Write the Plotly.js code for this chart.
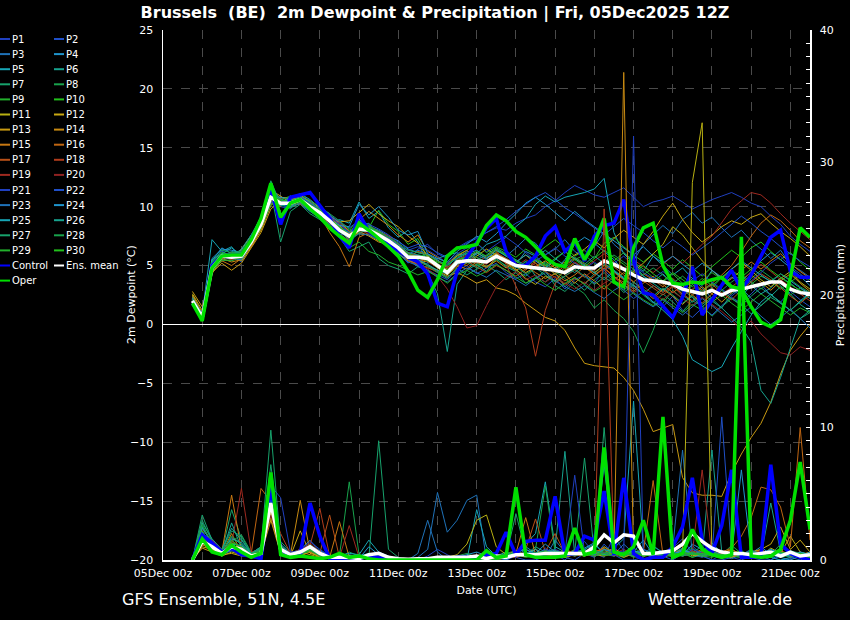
<!DOCTYPE html>
<html><head><meta charset="utf-8">
<script src="https://cdn.plot.ly/plotly-3.0.1.min.js"></script>
<style>html,body{margin:0;padding:0;background:#000;}#chart{width:850px;height:620px;}</style>
</head><body><div id="chart"></div>
<script>
// ---- time axis: 6-hourly from 05Dec2025 18z, 64 steps ----
const firstTimeUTC = Date.UTC(2025, 11, 5, 18);
const stepHours = 6;
const nSteps = 64;
const tickDates = ['2025-12-05','2025-12-06','2025-12-07','2025-12-08','2025-12-09','2025-12-10','2025-12-11','2025-12-12','2025-12-13','2025-12-14','2025-12-15','2025-12-16','2025-12-17','2025-12-18','2025-12-19','2025-12-20','2025-12-21'];
const tickText = ['05Dec 00z','','07Dec 00z','','09Dec 00z','','11Dec 00z','','13Dec 00z','','15Dec 00z','','17Dec 00z','','19Dec 00z','','21Dec 00z'];

// ---- 2m dewpoint (°C) ----
const dewMean = [2.0,0.6,4.8,5.8,5.7,5.8,7.0,8.5, 10.8,10.3,10.3,10.6,10.0,9.5,8.8,8.0, 7.5,8.1,8.0,7.6,7.1,6.5,5.7,5.7, 5.6,5.0,4.4,5.3,5.4,5.4,5.3,5.8, 5.4,5.0,4.9,4.8,4.7,4.6,4.4,4.9, 4.8,4.8,5.4,5.1,4.7,4.2,3.8,3.7, 3.6,3.4,3.0,2.8,2.6,2.9,2.5,2.9, 3.0,3.2,3.4,3.6,3.6,3.0,2.7,2.6];
const dewControl = [1.8,0.6,5.0,5.8,5.9,5.9,7.2,8.9, 11.5,8.5,10.8,11.0,11.2,10.1,9.0,7.5, 6.5,9.4,7.9,7.3,6.8,6.3,5.7,5.3, 4.3,1.8,1.5,4.5,5.7,7.0,8.2,9.0, 6.2,5.0,5.0,5.8,7.5,8.3,6.2,7.0, 5.4,7.5,8.4,8.6,10.6,5.5,2.7,2.5, 1.6,0.6,2.3,4.9,0.8,2.1,3.3,4.6, 2.9,4.2,5.8,7.4,8.0,4.5,4.0,4.0];
const dewOper = [1.8,0.3,4.8,5.8,5.9,5.9,7.2,9.0, 12.0,9.1,10.3,10.6,9.8,9.1,8.2,7.5, 6.9,8.6,8.0,7.3,6.6,5.8,4.5,2.9, 2.3,3.8,5.8,6.5,6.6,6.8,8.4,9.3, 8.8,7.9,7.4,6.6,5.7,5.1,4.9,7.3, 5.5,6.9,9.0,3.6,3.2,6.5,8.2,8.6, 5.0,3.5,3.4,3.6,3.5,3.8,4.0,3.2, 3.0,1.5,0.2,-0.2,0.4,4.0,8.2,7.4];
const dewP1 = [1.9,0.5,5.2,6.3,5.4,6.1,7.4,9.2, 11.2,10.0,9.8,10.9,10.4,9.6,9.1,8.3, 7.0,8.6,7.8,7.2,6.8,6.1,5.2,6.4, 6.8,6.0,5.6,6.5,7.0,7.4,7.8,8.2, 8.0,8.6,9.0,9.3,10.0,10.5,11.2,11.8, 11.4,11.0,10.8,11.2,11.6,10.8,10.0,10.4, 10.6,10.9,10.4,9.8,10.2,10.6,10.9,11.2, 10.8,10.3,10.0,9.2,8.5,7.5,6.8,6.2];
const dewP2 = [2.2,0.8,4.5,5.5,5.9,5.3,6.8,8.1, 10.2,10.6,10.1,10.2,9.6,9.0,8.2,7.6, 7.8,7.9,8.4,7.9,6.9,6.0,5.5,4.9, 4.6,4.2,3.8,4.6,5.0,4.3,4.8,5.2, 4.4,3.9,4.3,3.6,3.2,3.9,3.0,3.8, 4.2,3.5,4.6,3.8,2.9,2.2,2.8,1.9, 1.5,2.4,1.2,0.6,1.4,0.8,1.6,2.3, 1.8,2.6,3.4,2.5,1.9,2.8,2.1,1.5];
const dewP3 = [2.0,0.7,5.0,6.0,5.6,5.9,7.1,8.7, 11.0,10.4,10.6,10.8,10.2,9.4,9.0,8.5, 7.9,8.3,8.1,7.5,7.4,6.8,6.0,6.3, 6.0,5.4,5.1,5.6,6.2,5.9,5.5,6.4, 5.8,6.5,7.3,6.9,5.9,6.4,7.2,6.2, 5.7,6.6,7.9,6.8,6.1,5.4,6.8,7.6, 8.4,7.7,8.9,9.5,8.6,9.1,8.2,7.4, 8.0,7.1,6.4,5.6,6.3,5.1,4.6,4.0];
const dewP4 = [1.8,0.4,5.4,6.5,6.0,6.3,7.6,8.8, 10.9,10.8,10.5,11.1,10.6,9.9,9.4,8.1, 7.6,8.9,8.3,8.0,7.5,7.1,6.4,6.1, 5.9,5.5,4.8,5.9,6.0,6.3,5.7,6.0, 5.6,5.1,6.2,5.8,5.0,4.6,5.5,6.8, 7.4,6.9,6.2,5.5,4.6,5.2,4.1,3.6, 4.3,3.4,2.8,3.9,3.1,2.2,3.4,4.0, 3.6,4.5,5.4,6.1,5.5,4.8,4.1,3.3];
const dewP5 = [2.4,0.9,7.2,6.2,6.6,5.5,7.0,8.3, 10.6,10.1,10.9,10.4,10.0,9.8,8.6,8.9, 8.6,10.4,9.0,9.6,8.2,7.4,8.0,7.0, 5.2,5.6,5.9,6.1,5.3,6.0,6.8,7.1, 7.5,8.3,9.0,10.2,10.9,10.4,10.8,11.0, 11.2,11.5,12.4,7.8,6.0,5.2,4.5,5.8, 5.0,4.2,4.8,3.9,3.3,4.6,3.8,3.0, 2.4,3.3,2.6,3.1,4.0,3.5,2.8,2.2];
const dewP6 = [2.1,0.6,4.9,5.7,6.2,6.0,7.3,8.6, 11.6,10.2,9.9,10.3,9.8,9.3,8.8,8.4, 7.7,8.2,8.6,7.3,6.8,6.2,5.6,5.0, 4.4,2.6,-2.3,3.4,4.6,5.1,4.5,5.6, 4.9,4.5,5.4,4.1,3.6,4.4,3.2,4.0, 3.4,4.3,5.1,4.6,3.9,3.1,2.6,3.3, 2.8,3.6,2.5,1.9,2.7,2.0,1.4,2.6, 3.1,2.2,1.6,2.4,3.2,2.6,1.7,1.1];
const dewP7 = [1.7,0.3,4.6,5.9,5.8,5.6,6.9,8.4, 11.3,7.0,9.6,10.2,9.4,8.9,8.3,7.4, 6.2,6.6,7.0,5.6,5.0,4.7,4.3,4.9, 4.9,4.4,3.9,4.8,4.2,4.7,5.0,4.5, 3.8,4.4,3.5,3.9,4.6,3.3,2.8,3.6, 2.9,3.8,4.4,3.6,2.7,3.4,2.5,1.8, 2.6,1.9,1.1,2.0,1.6,0.7,1.5,2.2, 1.7,0.9,1.6,2.3,1.8,1.2,0.5,1.0];
const dewP8 = [2.3,0.8,4.4,5.4,5.5,6.2,7.2,8.9, 10.4,10.6,10.9,10.5,10.0,9.7,9.3,8.6, 8.0,8.4,7.9,7.6,7.2,6.6,6.1,5.6, 5.5,4.9,4.6,5.1,5.8,5.2,4.9,5.5, 5.0,4.6,4.1,4.8,5.3,4.5,3.9,3.2, 2.6,1.4,2.1,1.2,0.5,-0.6,-2.4,-0.5, 1.8,2.9,2.2,3.4,2.6,3.1,4.0,3.3, 2.7,3.9,4.6,4.0,3.3,2.5,3.1,2.4];
const dewP9 = [1.9,0.5,4.7,5.6,5.9,5.7,7.1,8.2, 10.7,10.3,10.2,10.7,10.1,9.6,8.9,8.2, 7.4,8.0,8.2,7.8,7.3,6.7,5.8,5.9, 5.8,5.2,4.6,5.5,5.7,5.0,5.3,6.2, 6.0,5.4,4.8,5.6,5.1,4.2,4.8,5.5, 5.9,5.2,4.6,5.4,6.1,5.3,4.7,4.0, 3.6,4.3,3.5,2.9,3.7,4.4,3.8,3.2, 2.6,3.4,4.1,3.7,3.0,3.6,4.2,3.8];
const dewP10 = [2.0,0.7,5.1,6.1,5.7,5.8,7.0,8.8, 11.8,10.5,10.4,10.9,10.3,9.2,8.7,7.9, 7.3,9.2,8.2,9.7,8.5,7.9,6.8,7.3, 5.7,5.3,5.0,5.9,6.3,6.9,6.1,6.6, 6.2,5.7,6.4,5.9,6.6,7.2,6.5,5.8, 6.3,5.6,6.9,7.4,6.6,5.9,5.3,6.0, 5.4,4.7,5.5,4.8,4.1,4.9,5.6,6.3, 5.7,6.5,7.0,6.2,5.5,6.1,5.3,4.6];
const dewP11 = [2.6,1.2,4.8,5.5,6.0,5.4,6.6,8.0, 10.1,10.8,10.7,10.4,9.9,9.2,8.5,8.8, 7.9,7.7,7.6,7.1,6.6,6.0,5.4,5.2, 5.4,4.8,4.2,4.9,5.2,5.8,6.4,5.9, 5.3,4.7,3.9,3.4,4.1,3.7,4.6,5.2, 4.8,4.4,5.0,4.5,3.8,4.5,5.2,6.0, 6.8,8.3,7.6,6.5,5.4,4.6,3.9,4.7, 5.3,4.6,3.8,3.2,3.9,4.5,3.6,3.0];
const dewP12 = [2.5,1.0,5.0,5.8,5.6,6.4,7.5,9.0, 11.4,10.9,10.3,10.8,10.5,9.9,9.2,8.7, 8.8,9.5,10.2,9.4,8.8,8.3,7.5,6.9, 5.8,5.1,4.7,5.3,5.6,6.1,5.6,6.0, 5.5,5.0,4.4,4.9,5.4,4.8,5.3,5.9, 6.4,7.1,6.5,7.3,8.0,7.4,6.8,7.9, 9.2,10.3,8.9,7.8,7.0,7.6,8.3,8.8, 8.5,9.1,9.4,8.6,7.9,7.3,6.6,5.8];
const dewP13 = [2.8,1.5,4.4,5.2,4.6,5.2,6.5,7.8, 9.8,10.5,10.0,10.3,10.2,9.5,8.7,8.0, 7.2,7.9,7.5,7.0,6.8,6.3,5.9,5.5, 5.0,4.6,4.1,4.4,4.0,3.5,3.8,3.1, 2.9,2.5,1.8,1.2,0.6,0.3,-0.5,-2.0, -3.3,-3.5,-3.6,-3.7,-4.5,-5.6,-7.2,-9.1, -8.8,-8.5,-13.0,-14.3,-14.5,-14.5,-14.6,-12.6, -11.0,-9.6,-8.4,-6.6,-4.2,-2.2,-1.0,0.0];
const dewP14 = [2.3,0.9,4.3,5.6,5.3,5.5,6.7,8.3, 10.5,10.0,10.8,11.0,10.4,9.6,9.0,8.4, 7.5,8.9,9.6,9.0,8.4,7.6,7.0,7.6, 6.2,5.7,5.2,5.8,6.3,5.5,4.9,5.4, 4.8,5.3,5.9,5.2,4.5,5.1,4.2,3.5, 4.3,3.7,3.0,3.8,4.4,3.6,2.9,2.2, 3.0,2.4,1.7,2.5,3.2,2.6,1.9,2.7, 3.5,4.2,3.6,2.9,3.7,4.3,3.5,2.8];
const dewP15 = [2.1,0.8,4.6,5.4,5.0,5.6,6.6,8.1, 10.3,10.4,10.6,10.8,10.1,9.3,7.8,6.6, 4.9,7.4,7.8,7.5,7.0,6.4,5.8,5.3, 5.6,5.0,4.5,5.0,4.7,5.3,4.8,5.7, 5.2,4.6,5.0,4.4,3.9,4.3,3.7,4.2, 4.9,4.2,4.8,4.1,3.4,2.8,3.5,4.1, 3.4,2.7,3.3,2.5,1.8,2.6,3.3,3.9, 4.6,5.3,4.7,5.4,6.0,5.2,4.5,3.9];
const dewP16 = [2.4,1.0,4.9,5.9,5.5,6.2,7.3,8.9, 11.5,10.7,10.2,10.6,9.7,9.1,8.4,7.7, 7.1,7.8,8.0,7.4,6.9,6.6,5.7,6.2, 5.9,5.4,4.9,5.2,5.0,5.7,5.2,6.1, 5.6,5.2,4.6,5.4,4.9,4.3,5.0,5.6, 5.1,4.6,5.5,4.9,4.2,3.6,4.3,3.8, 3.2,3.9,3.1,3.6,2.9,3.5,4.2,5.0, 6.2,7.5,8.6,9.3,8.8,8.0,7.1,6.5];
const dewP17 = [2.2,0.6,4.7,5.7,6.1,5.9,7.0,8.5, 10.9,10.1,10.5,10.2,9.8,9.6,9.1,8.2, 7.7,8.4,8.2,7.7,7.1,6.5,5.4,5.1, 4.8,4.5,4.0,4.7,5.4,4.9,4.4,5.0, 4.6,4.1,4.7,5.2,4.5,4.0,3.4,3.9, 3.5,4.1,4.8,4.0,3.6,3.0,3.7,3.1, 2.5,3.2,2.6,2.0,2.8,3.4,2.7,2.1, 2.9,3.6,4.3,3.8,3.1,2.4,1.8,2.5];
const dewP18 = [2.0,0.5,4.8,5.6,5.8,6.0,7.2,8.6, 11.1,10.2,10.0,10.5,10.3,9.8,9.0,8.6, 7.9,8.3,7.9,7.8,7.3,6.8,6.1,5.7, 5.3,4.9,4.3,5.0,5.6,5.2,5.8,6.3, 5.1,3.2,1.4,-2.7,1.2,3.5,4.1,4.6, 4.0,4.7,5.2,4.4,3.8,4.5,3.9,3.3, 2.7,3.3,2.4,3.0,3.7,3.1,2.5,3.2, 3.8,4.4,5.1,4.5,3.8,3.2,2.6,2.0];
const dewP19 = [1.9,0.6,4.9,5.8,5.5,5.7,7.0,8.7, 11.0,10.5,10.1,10.6,10.2,9.5,8.9,8.3, 7.6,8.2,8.4,7.9,7.5,6.9,6.0,5.8, 5.5,5.1,4.8,5.5,5.9,5.4,5.1,5.8, 5.3,4.9,5.5,5.0,4.6,5.2,4.7,5.3, 4.8,5.4,6.0,5.3,4.7,5.5,4.9,4.4, 5.1,5.8,5.2,6.0,6.8,7.5,8.6,9.8, 10.5,11.2,11.0,10.3,9.4,8.6,7.9,7.2];
const dewP20 = [2.1,0.7,4.6,5.7,5.9,5.6,6.9,8.4, 10.6,10.3,10.4,10.5,9.9,9.4,8.6,8.1, 7.3,8.0,7.7,7.2,6.7,6.2,5.6,5.2, 4.7,4.1,3.0,1.5,-0.3,-0.1,1.6,3.2, 4.0,4.5,3.8,4.2,3.6,4.1,3.5,3.0, 3.6,2.9,3.5,4.0,3.3,2.7,3.2,2.6, 2.1,2.8,2.2,1.6,2.3,1.7,1.1,0.4, -0.5,0.3,-0.8,-1.6,-2.4,-2.6,-1.9,-2.2];
const dewP21 = [1.8,0.4,5.3,6.2,5.8,6.0,7.3,8.9, 11.3,10.6,10.3,10.8,10.2,9.7,9.2,8.5, 7.8,8.6,8.0,7.7,7.3,6.7,6.3,6.6, 6.3,5.8,5.2,6.0,6.5,6.9,6.2,6.8, 7.4,6.8,6.1,5.4,5.9,6.5,5.8,5.2, 4.7,5.3,4.6,5.2,5.8,5.0,4.4,3.9, 4.5,3.8,3.1,3.7,4.3,3.6,3.0,2.4, 3.1,3.7,4.4,5.2,5.8,4.9,4.3,3.6];
const dewP22 = [2.0,0.6,5.0,6.0,5.9,5.8,7.1,8.6, 10.8,10.4,10.7,10.9,10.3,9.8,9.3,8.7, 8.2,8.8,8.5,8.1,7.6,7.0,6.5,6.8, 6.6,6.1,5.7,6.4,6.9,7.3,7.8,8.3, 8.9,9.6,10.2,10.8,11.2,10.6,9.9,9.4, 8.8,8.2,7.6,8.3,9.0,8.4,7.8,7.1, 6.5,7.2,6.6,5.9,6.5,7.1,7.8,8.5, 9.2,8.6,7.9,7.3,6.6,6.0,5.4,4.9];
const dewP23 = [1.9,0.5,4.7,5.7,5.6,5.5,6.8,8.3, 10.4,10.2,10.0,10.3,9.6,9.1,8.5,7.9, 7.2,7.7,7.6,7.2,6.6,6.0,5.3,5.0, 4.6,4.0,3.6,4.3,4.8,4.4,4.0,4.6, 4.2,3.8,3.3,3.9,4.4,3.7,3.2,2.8, 3.3,2.7,2.2,2.9,3.4,2.6,2.0,1.5, 2.1,1.4,0.8,1.5,2.2,1.6,0.9,0.2, 0.8,1.5,0.7,0.0,0.6,1.3,0.5,-0.3];
const dewP24 = [2.2,0.8,5.6,6.4,6.3,6.1,7.4,8.8, 10.7,10.8,10.6,10.4,10.1,9.5,8.9,8.4, 8.3,10.2,9.3,10.0,9.1,8.0,7.6,7.9, 6.0,5.6,5.3,6.2,6.8,7.5,7.0,7.7, 8.6,9.4,10.3,10.8,10.2,9.5,8.8,9.6, 8.9,8.3,7.7,7.1,6.5,5.9,6.6,5.8, 5.2,5.8,5.1,4.5,5.2,4.6,4.0,4.7, 5.4,4.8,4.2,3.6,4.3,3.7,3.1,2.6];
const dewP25 = [2.0,0.5,5.5,6.0,6.5,5.9,7.0,8.5, 11.2,10.1,10.0,10.6,10.0,9.3,8.8,8.1, 7.5,8.0,8.3,7.6,7.0,6.3,5.9,5.5, 5.1,4.6,4.3,5.1,5.5,6.1,5.6,6.3, 5.8,5.3,5.9,5.4,4.8,5.5,6.2,5.6, 5.0,4.4,3.8,4.5,3.9,3.3,2.6,1.9, 1.2,0.4,-1.0,-3.0,-3.5,-4.0,-3.6,-2.0, -0.6,0.8,1.9,2.6,1.8,1.2,2.0,2.7];
const dewP26 = [2.3,0.9,5.2,5.9,5.7,6.4,7.6,9.1, 11.7,10.6,10.4,10.9,10.4,9.8,9.1,8.2, 7.8,8.4,8.1,7.9,7.4,6.8,6.1,5.9, 5.6,5.0,4.5,5.6,6.0,5.5,5.9,6.5, 6.0,5.5,5.0,5.7,6.3,5.6,5.0,4.4, 5.1,5.8,5.2,4.6,4.0,4.7,4.1,3.5, 2.9,3.6,3.0,2.3,1.5,2.2,1.4,0.6, -0.2,-1.5,-5.6,-6.7,-4.5,-2.0,0.5,1.2];
const dewP27 = [1.8,0.4,4.9,5.7,5.8,5.6,6.9,8.6, 12.2,10.2,9.9,10.4,9.7,9.2,8.8,7.7, 7.0,7.8,8.0,7.4,6.9,6.3,5.8,5.3, 5.0,4.5,4.0,4.7,5.3,4.8,5.4,5.9, 5.4,4.9,4.3,4.8,4.2,3.6,4.1,4.7, 4.1,3.4,4.0,3.5,2.9,3.6,3.0,2.4, 3.1,2.5,1.8,2.4,1.7,2.3,2.9,2.2, 1.6,2.4,3.1,2.5,1.9,1.2,1.9,2.6];
const dewP28 = [2.1,0.7,5.3,6.3,6.1,6.2,7.4,8.9, 11.4,10.6,10.8,11.1,10.5,10.0,9.4,8.8, 8.1,8.7,8.4,7.9,7.4,6.9,6.3,6.1, 5.9,5.4,5.0,5.7,6.1,5.7,5.3,5.9, 5.4,4.8,5.3,4.7,5.2,4.6,5.1,5.7, 5.2,4.7,5.3,5.9,5.3,4.7,4.2,4.8, 4.2,3.5,4.1,3.4,2.8,3.5,2.9,3.6, 4.2,3.6,3.0,3.7,4.3,3.8,3.2,2.7];
const dewP29 = [1.9,0.6,4.5,5.5,5.4,5.7,6.8,8.2, 10.2,10.4,10.2,10.4,9.8,9.0,8.4,7.8, 6.5,7.0,6.2,5.9,5.3,5.0,4.6,4.2, 4.5,4.1,3.5,4.2,4.6,4.1,4.5,5.1, 4.6,4.0,3.5,4.0,3.4,2.9,3.5,4.0, 3.4,2.8,3.3,2.7,2.1,2.7,2.1,1.6, 2.2,1.6,1.0,1.7,1.2,1.9,2.5,1.8, 1.2,1.9,2.6,2.0,1.4,0.8,1.4,1.0];
const dewP30 = [2.0,0.5,5.0,6.1,5.9,6.1,7.2,8.7, 11.0,10.5,10.5,10.7,10.2,9.7,9.0,8.3, 7.6,8.3,8.3,7.8,7.2,6.6,6.0,5.7, 5.4,5.0,4.6,5.4,5.8,6.2,5.8,6.4, 5.9,5.4,4.9,5.5,5.0,5.6,6.2,5.5, 4.9,5.6,6.3,5.7,5.1,4.4,5.0,4.3, 3.7,4.4,3.8,3.2,3.9,3.3,4.0,4.6, 4.0,4.7,5.3,4.6,4.0,3.4,2.9,2.4];

// ---- precipitation (mm / 6h) ----
const prcMean = [0,1.4,1.0,0.5,1.0,0.8,0.3,0.5, 4.3,0.8,0.4,0.6,1.0,0.5,0.2,0.2, 0.2,0.1,0.4,0.5,0.2,0.1,0.05,0.1, 0.1,0.2,0.2,0.2,0.2,0.3,0.1,0.3, 0.2,0.4,0.4,0.4,0.5,0.5,0.5,0.5, 0.5,1.0,1.9,1.3,1.9,1.8,0.5,0.5, 0.6,0.7,1.2,2.0,1.4,0.9,0.6,0.5, 0.5,0.4,0.5,0.6,0.3,0.6,0.3,0.4];
const prcControl = [0,1.9,1.3,0.6,0.9,0.4,0.3,0.1, 5.5,0.8,0.4,0.5,4.3,1.8,0.1,0.1, 0.2,0.1,0.3,0.2,0,0,0,0, 0,0,0.1,0.2,0.2,0.1,0.4,0.5, 2.1,0.4,1.4,1.5,1.5,4.8,0.4,0.5, 1.8,1.5,5.2,0.4,6.2,0.5,0,0.2, 0.2,1.0,2.5,6.2,1.5,0.5,2.6,6.8, 0.2,0.2,0.3,7.2,1.2,0.5,0.2,0];
const prcOper = [0,1.6,0.6,0.4,1.1,0.6,0.2,0.5, 6.6,0.4,0.2,0.3,0.2,0.1,0.2,0.5, 0.2,0.3,0.1,0,0,0,0,0, 0,0,0,0,0,0,0.7,0.2, 0.3,5.5,0.4,0.2,0.2,0.2,0.3,2.4, 0.4,0.6,8.5,0.6,0.4,1.0,3.0,0.4, 10.8,0.2,0.5,2.3,0.8,0.4,0.2,0.4, 24.4,0.3,0.2,0.3,0.8,3.0,7.4,2.3];
const prcP1 = [0,1.8,1.2,0.4,0.8,0.6,0.2,0.4, 3.9,0.6,0.3,0.5,1.2,0.4,0.1,0.1, 0.2,0,0.3,0.5,0.1,0,0,0, 0.3,0.8,0.4,0,0,0.2,0,0, 0,0.3,0.5,0.2,0.9,0.4,0,0.6, 1.4,0.5,0.2,1.8,0.7,0.3,0,0.4, 0.2,0.9,1.6,0.5,0.3,0,0.4,0.2, 0,0.3,0.6,0.2,0,0.1,0.4,0];
const prcP2 = [0,1.4,0.9,0.6,1.3,0.5,0.4,0.7, 5.0,0.9,0.2,0.4,0.8,0.6,0.3,0.2, 0,0.1,0.4,0.2,0,0,0,0, 0,0,0,0,0.2,0,0,0.1, 0.4,0.2,0,0,0.3,0.6,0.2,0, 0.5,0.2,1.2,0.4,0,0,0.2,0.8, 0.3,0,0.5,1.1,0.3,0,0,0.2, 0.5,0.2,0,0,0.3,0.6,0.2,0];
const prcP3 = [0,2.0,1.4,0.5,0.7,1.0,0.3,0.6, 4.8,1.2,0.5,0.8,1.5,0.6,0.2,0.1, 0.3,0.2,0.1,0,0,0,0,0.2, 0.8,5.1,2.1,3.0,4.5,4.9,0,0.2, 0.5,0.3,0.8,0.4,0.2,1.5,0.6,0.3, 0.8,0.3,0.6,0.4,1.2,0.5,0.3,1.0, 0.6,0.9,8.3,0.4,0.2,0.5,0.3,0.1, 0.4,0.8,0.3,0,0.5,0.2,0,0.3];
const prcP4 = [0,1.6,1.1,0.7,1.0,0.7,0.5,0.9, 3.5,1.0,0.4,0.5,1.1,0.7,0.3,0.3, 0.1,0,0.2,0.6,0.3,0,0,0, 0,0.1,0,0.2,0.4,0.6,0.3,0.2, 0,0.4,1.0,0.5,0.2,0.7,0.3,0.4, 0.9,1.3,0.4,0.8,0.3,0.6,1.5,0.4, 0.2,0.6,0.3,1.2,0.8,0.4,0.2,0.6, 0.3,0.5,1.0,0.4,0.2,0,0.3,0.5];
const prcP5 = [0,2.5,1.3,0.6,1.7,1.2,0.4,0.8, 4.5,0.7,0.3,0.6,0.9,0.4,0.2,0.2, 0.1,0.3,0.5,0.4,0.2,0,0,0, 0,0,0.1,0,0,3.8,1.0,0.3, 0.4,0.6,1.2,2.0,5.9,1.0,0.6,0.4, 0.8,1.2,0.5,0.9,1.6,12.0,0.8,0.4, 0.3,0.5,0.9,0.4,0.6,1.3,0.5,0.2, 0.4,0.3,0.6,0.2,0,0.2,0.5,0.3];
const prcP6 = [0,2.2,1.0,0.5,2.8,0.9,0.3,0.6, 5.2,0.8,0.4,0.5,0.7,0.3,0.1,0.2, 0.4,0.2,0.1,0.3,0,0,0,0, 0,0.1,0,0,0.2,0,0,0.3, 0.6,0.3,0.4,1.0,0.6,0.8,8.2,0.4, 0.6,0.3,0.8,0.5,0.3,0.7,0.4,1.1, 0.5,0.3,0.6,0.2,0.4,8.3,0.6,0.3, 0.2,0.5,0.3,4.3,0.6,0.4,0.2,0];
const prcP7 = [0,3.4,1.5,0.6,3.8,1.6,0.5,1.0, 7.2,1.4,0.6,0.4,0.9,0.5,0.3,0.2, 0.6,0.3,0.2,9.0,0.8,0.2,0,0, 0,0,0,0,0,0.1,0,0, 0.3,3.5,0.6,0.3,0.5,0.4,0.2,0.6, 7.7,0.5,0.3,0.6,0.4,0.3,0.8,0.5, 0.2,0.4,0.3,0.6,1.0,0.5,0.3,0.2, 0.6,0.3,0.5,0.8,0.4,0.2,0.6,0.4];
const prcP8 = [0,2.6,1.1,0.7,1.4,1.9,0.6,0.8, 6.0,1.0,0.5,0.7,1.2,0.4,0.2,0.3, 5.9,0.4,0.3,0.5,0.2,0,0,0, 0,0,0,0.3,0.5,0.2,0,0.2, 0.5,0.7,0.3,0.8,5.6,0.6,0.4,0.8, 0.5,0.4,1.0,0.6,0.3,0.9,0.5,0.3, 0.7,0.4,0.5,0.9,0.3,0.6,0.4,1.1, 0.5,0.3,0.6,0.4,1.2,0.5,0.3,0.2];
const prcP9 = [0,1.9,0.8,0.4,1.2,0.7,0.3,0.5, 4.0,0.8,0.4,0.3,0.7,0.5,0.2,0.1, 0.2,0.1,0.3,0.2,0.1,0,0,0, 0,0,0,0,0,0,0,0, 0.2,0.4,0.2,0.3,0.6,0.4,0.2,0.5, 0.3,0.8,0.4,0.3,0.6,0.2,0.4,0.3, 0.5,0.2,0.4,0.6,0.3,0.2,0.5,0.3, 0.2,0.4,0.3,0.6,0.2,0.4,0.3,0.2];
const prcP10 = [0,1.5,1.0,0.3,0.9,0.5,0.2,0.7, 4.6,0.5,0.3,0.4,0.8,0.3,0.1,0.2, 0.1,0.2,0.1,0.3,0,0,0,0, 0,0,0,0.1,0,0,0.2,0, 0.3,0.5,0.3,0.2,0.4,0.3,0.6,0.4, 0.5,0.3,0.7,0.4,0.2,0.5,0.3,0.6, 0.4,0.3,0.5,0.2,0.6,0.4,0.3,0.5, 0.7,0.3,0.4,0.2,0.5,0.3,0.6,0.4];
const prcP11 = [0,1.2,0.7,0.3,0.6,0.4,0.2,0.3, 3.6,0.5,0.2,0.3,0.6,0.2,0.1,0.1, 0,0.1,0.2,0.1,0,0,0,0, 0,0,0.2,0.4,1.2,3.0,3.4,1.0, 0.4,0.6,0.3,0.2,0.5,0.3,0.7,0.4, 0.3,0.5,0.8,0.4,0.6,0.3,0.5,0.2, 0.4,0.6,0.5,28.5,33.0,0.3,0.5,0.8, 0.4,0.6,0.3,0.9,0.5,1.8,0.6,0.3];
const prcP12 = [0,1.0,0.8,0.4,0.5,0.3,0.3,0.6, 3.2,0.6,0.3,2.2,0.5,0.3,0.2,0.1, 0,0,0.3,0.1,0,0,0,0, 0,0,0,0,0.1,0.3,0.6,0.2, 0.4,0.2,0.5,0.8,0.3,0.6,0.2,0.4, 0.7,0.3,0.5,0.9,0.4,0.6,0.3,0.5, 0.2,0.5,0.8,0.3,0.6,0.4,0.2,0.5, 0.3,0.6,0.8,1.2,2.5,0.8,1.5,0.6];
const prcP13 = [0,0.9,0.6,0.3,1.1,0.5,0.2,0.4, 3.0,0.5,0.3,0.6,0.4,0.2,0.3,0.1, 0.1,0,0.2,0.1,0,0,0,0, 0,0,0,0,0,0,0.2,0.4, 0.3,0.6,0.4,0.3,0.5,0.2,0.6,0.3, 0.5,0.4,0.3,0.6,0.2,0.5,0.3,0.4, 0.6,0.3,0.5,0.4,0.3,0.6,0.4,0.2, 0.5,0.3,0.6,0.4,0.3,0.5,0.4,0.6];
const prcP14 = [0,1.3,0.9,0.5,2.0,0.6,0.3,0.5, 4.0,0.7,0.4,4.5,0.6,0.3,0.2,0.1, 0.1,0.2,0.3,0.1,0,0,0,0, 0,0,0,0,0,0.1,0.3,0.2, 0.4,0.7,0.3,0.5,0.6,0.4,0.8,0.5, 0.6,0.4,1.0,0.5,36.8,0.4,0.6,0.3, 0.5,0.8,0.4,0.6,0.3,0.5,0.4,0.6, 0.3,0.5,0.8,0.4,0.6,0.3,0.5,0.4];
const prcP15 = [0,1.1,1.2,0.6,4.9,0.8,0.4,0.9, 3.8,0.6,0.3,0.5,0.8,0.4,0.2,2.9, 0.2,0.1,0.3,0.2,0,0,0,0, 0,0,0,0,0,0,0,0.2, 0.3,0.5,3.2,0.4,0.6,0.3,0.5,0.7, 0.4,0.6,0.9,0.3,0.5,0.7,0.4,0.6, 0.3,0.5,0.7,0.4,0.6,0.3,0.5,0.8, 0.4,0.6,0.3,0.5,0.7,0.4,0.6,0.3];
const prcP16 = [0,1.4,0.7,0.5,1.5,0.7,0.5,5.4, 4.4,0.9,0.5,0.7,0.9,0.4,0.2,0.3, 0.3,0.2,0.4,0.2,0,0,0,0, 0,0,0,0,0,0,0,0, 0.2,0.4,0.6,0.3,0.5,0.4,0.7,0.5, 0.3,0.6,0.8,0.4,0.5,0.3,0.6,6.0, 0.4,0.6,0.3,0.5,0.8,0.4,0.6,0.9, 1.8,3.2,5.5,5.3,4.0,1.0,10.0,1.5];
const prcP17 = [0,1.7,1.0,0.6,1.3,1.0,0.4,0.7, 5.8,0.8,0.4,0.6,1.0,0.5,3.4,0.2, 0.2,0.1,0.3,0.2,0,0,0,0, 0,0,0,0,0,0,0,0, 0.3,0.6,0.8,3.1,0.6,2.0,0.5,0.4, 0.7,0.3,0.5,0.8,0.4,0.6,0.3,0.5, 0.6,0.3,0.5,0.4,0.7,0.3,0.6,0.4, 0.3,0.5,0.7,0.4,0.6,0.3,0.5,0.4];
const prcP18 = [0,2.0,1.3,0.7,1.0,0.9,0.4,0.6, 4.2,2.0,0.5,0.8,1.1,3.9,0.3,0.2, 0.3,0.2,0.3,0.1,0,0,0,0, 0,0,0,0,0,0,0,0, 0.2,0.4,0.6,0.3,0.5,0.7,0.4,0.6, 0.5,0.3,26.5,0.4,0.6,0.3,0.5,0.4, 0.6,0.3,0.5,0.7,0.4,0.6,0.3,0.5, 0.4,0.6,0.3,0.5,0.4,0.6,0.3,0.4];
const prcP19 = [0,2.3,1.5,0.8,1.2,5.4,0.6,0.8, 4.6,1.0,0.6,0.7,1.3,0.6,0.3,0.2, 2.6,0.2,0.1,0.2,0,0,0,0, 0,0,0,0,0,0,0,0, 0.3,0.2,0.5,0.4,0.6,0.3,0.5,0.7, 0.4,0.6,0.3,0.5,0.8,0.4,0.6,0.3, 0.5,0.7,0.4,0.6,6.8,0.3,0.5,0.4, 0.6,0.3,0.5,0.4,0.6,0.3,0.5,0.4];
const prcP20 = [0,1.8,1.2,0.6,0.9,0.7,0.3,0.5, 3.4,0.7,0.3,0.5,0.9,0.4,0.2,0.1, 0.1,0.2,0.1,0.2,0,0,0,0, 0,0,0,0,0,0,0,0, 0.2,0.4,0.3,0.5,0.3,0.6,0.4,0.3, 0.5,0.4,0.6,0.3,0.5,0.4,0.3,0.6, 0.4,0.3,0.5,0.4,0.6,0.3,0.4,0.5, 0.3,0.6,0.4,0.3,0.5,0.6,0.4,0.3];
const prcP21 = [0,1.9,1.4,0.6,1.1,0.8,0.3,0.6, 5.6,4.7,0.6,0.7,1.4,0.8,0.3,0.2, 0.2,0.1,0.2,0.3,0.1,0,0,0, 0,0,0,0,0,0,0,0, 0.4,0.3,0.6,0.5,0.3,0.8,0.5,6.4, 0.6,0.4,0.8,0.5,0.7,32.0,0.6,0.4, 0.5,0.7,0.4,0.6,0.3,0.5,0.7,0.4, 0.6,0.3,0.5,0.8,0.4,0.6,0.3,0.5];
const prcP22 = [0,1.7,1.1,0.5,0.8,0.6,0.4,0.5, 4.9,0.8,0.4,0.6,1.0,0.5,0.2,0.2, 0.1,0.2,0.3,0.2,0,0,0,0, 0,0,0,0,0,0,0,0, 0.5,0.3,0.6,0.4,0.8,0.5,0.3,0.6, 0.4,0.7,0.5,0.3,0.6,0.4,0.8,0.5, 0.3,0.6,0.4,0.8,0.5,0.3,10.8,0.6, 0.4,0.3,0.6,0.5,0.3,0.4,0.6,0.3];
const prcP23 = [0,1.5,1.0,0.4,0.7,0.5,0.3,0.4, 4.1,0.6,0.3,0.4,0.8,0.3,0.2,0.1, 0,0.1,0.2,0.1,0,0,0,0.5, 3.0,0.6,0,0,0.2,0,0,0, 0.3,0.5,0.4,0.2,0.6,0.3,0.5,0.4, 0.6,0.3,0.5,0.7,0.4,0.6,0.3,0.5, 0.4,0.6,0.3,0.5,0.4,0.6,0.3,0.5, 0.3,0.4,0.6,0.3,0.5,0.4,0.3,0.5];
const prcP24 = [0,2.1,1.2,0.6,1.2,1.1,0.4,0.7, 4.7,0.9,0.5,0.6,1.1,0.5,0.2,0.2, 0.3,0.1,1.0,0.4,0.1,0,0,0, 0,0,0,0,0,0,0,0, 0.4,0.6,0.8,0.5,1.2,0.6,0.4,0.7, 0.5,0.8,7.2,0.6,0.4,0.7,0.5,0.3, 0.6,0.4,0.7,0.5,0.3,0.6,0.4,0.4, 6.8,0.5,0.3,0.6,0.4,0.5,0.3,0.6];
const prcP25 = [0,2.4,1.3,0.7,1.6,1.3,0.5,0.8, 5.0,0.8,0.4,0.6,0.8,0.4,0.2,0.3, 0.5,0.4,1.5,0.6,0.2,0,0,0, 0,0,0,0,0,0,0,0, 0.3,0.6,0.4,0.8,0.5,0.7,0.4,0.6, 0.5,0.4,0.8,0.6,0.3,0.7,0.5,0.4, 0.6,0.4,0.8,0.5,0.3,0.6,0.4,0.5, 0.3,0.6,0.4,0.8,0.5,0.3,0.6,0.4];
const prcP26 = [0,2.8,1.6,0.8,2.4,1.5,0.5,1.0, 4.4,1.1,0.5,0.7,0.9,0.5,0.3,0.2, 0.2,0.3,0.2,0.1,0,0,0,0, 0,0,0,0,0,0,0,0, 0.4,0.3,0.6,0.4,0.7,0.5,0.3,0.6, 0.8,0.5,0.4,0.7,0.5,0.3,0.6,0.4, 0.5,0.3,0.6,0.4,0.7,0.5,0.3,0.6, 0.4,0.7,0.5,0.3,0.6,0.4,0.5,0.3];
const prcP27 = [0,3.0,1.4,0.7,2.2,1.8,0.5,0.9, 9.8,1.1,0.4,0.6,1.0,0.4,0.2,0.3, 0.3,0.2,0.3,0.2,0,0,0,0, 0,0,0,0,0,0,0,0, 0.3,0.5,0.4,0.6,0.4,0.7,0.5,0.3, 0.6,0.4,10.0,0.5,0.3,0.6,0.4,0.7, 0.5,0.3,0.6,0.4,0.5,0.7,0.3,0.6, 0.4,0.5,0.3,0.6,0.4,0.7,0.5,0.3];
const prcP28 = [0,2.7,1.2,0.6,1.8,1.2,0.4,0.8, 6.2,0.9,0.4,0.6,0.9,0.5,0.2,0.2, 0.2,0.2,0.4,0.3,0.1,0,0,0, 0,0,0,0,0,0,0,0, 0.4,0.6,0.3,0.5,0.7,0.4,0.6,0.5, 0.3,0.7,0.5,0.4,0.6,0.3,0.5,0.7, 0.4,0.6,0.3,0.5,0.4,0.6,0.3,0.5, 0.6,0.4,0.3,0.5,0.4,0.6,0.3,0.5];
const prcP29 = [0,2.2,1.0,0.5,1.5,0.9,0.3,0.6, 5.4,0.8,0.3,0.5,0.7,0.3,0.1,0.2, 0.1,0.2,0.1,0.2,0,0,0,0, 0,0,0,0,0,0,0,0, 0.2,0.4,0.3,0.5,0.6,0.3,0.5,0.4, 0.6,0.3,0.5,0.7,0.4,0.5,0.3,0.6, 0.3,0.5,0.4,0.6,0.3,0.5,0.4,0.6, 0.5,0.3,0.4,0.6,0.3,0.5,0.4,0.3];
const prcP30 = [0,2.0,1.1,0.6,1.3,1.0,0.4,0.7, 5.9,0.8,0.4,0.5,0.8,0.4,0.2,0.1, 0.2,0.1,0.2,0.1,0,0,0,0, 0,0,0,0,0,0,0,0, 0.3,0.5,0.4,0.3,0.6,0.4,0.3,0.5, 0.4,0.6,0.3,0.5,0.4,0.6,0.3,0.4, 0.5,0.3,0.6,0.4,0.5,0.3,0.4,0.6, 0.3,0.5,0.4,0.3,0.6,0.4,0.5,0.3];

const memberNames = ['P1','P2','P3','P4','P5','P6','P7','P8','P9','P10','P11','P12','P13','P14','P15','P16','P17','P18','P19','P20','P21','P22','P23','P24','P25','P26','P27','P28','P29','P30'];
const memberColors = ['#2040c0','#2050c8','#1f72b8','#1f94cc','#17a6b6','#17a28e','#17a26c','#18a24c','#22b02c','#22c01c','#b8b012','#c8a812','#c89a12','#c88a12','#c87812','#c06612','#b85018','#b03c1c','#a02a20','#902222','#2040c0','#2050c8','#1f72b8','#1f94cc','#17a6b6','#17a28e','#17a26c','#18a24c','#22b02c','#22c01c'];
const dewMembers = [dewP1,dewP2,dewP3,dewP4,dewP5,dewP6,dewP7,dewP8,dewP9,dewP10,dewP11,dewP12,dewP13,dewP14,dewP15,dewP16,dewP17,dewP18,dewP19,dewP20,dewP21,dewP22,dewP23,dewP24,dewP25,dewP26,dewP27,dewP28,dewP29,dewP30];
const prcMembers = [prcP1,prcP2,prcP3,prcP4,prcP5,prcP6,prcP7,prcP8,prcP9,prcP10,prcP11,prcP12,prcP13,prcP14,prcP15,prcP16,prcP17,prcP18,prcP19,prcP20,prcP21,prcP22,prcP23,prcP24,prcP25,prcP26,prcP27,prcP28,prcP29,prcP30];
const colControl = '#0000ff', colMean = '#ffffff', colOper = '#00e000';

// ---- build ----
const times = [];
for (let i = 0; i < nSteps; i++) {
  times.push(new Date(firstTimeUTC + i * stepHours * 3600000).toISOString().slice(0, 16).replace('T', ' '));
}
const traces = [];
memberNames.forEach((n, k) => {
  traces.push({x: times, y: dewMembers[k], type: 'scatter', mode: 'lines', name: n, line: {color: memberColors[k], width: 1}, yaxis: 'y'});
});
memberNames.forEach((n, k) => {
  traces.push({x: times, y: prcMembers[k], type: 'scatter', mode: 'lines', name: n + ' precip', line: {color: memberColors[k], width: 1}, yaxis: 'y2'});
});
traces.push({x: times, y: prcControl, mode: 'lines', name: 'Control precip', line: {color: colControl, width: 3.5}, yaxis: 'y2'});
traces.push({x: times, y: dewControl, mode: 'lines', name: 'Control', line: {color: colControl, width: 3.5}, yaxis: 'y'});
traces.push({x: times, y: prcMean, mode: 'lines', name: 'Ens. mean precip', line: {color: colMean, width: 3.5}, yaxis: 'y2'});
traces.push({x: times, y: dewMean, mode: 'lines', name: 'Ens. mean', line: {color: colMean, width: 3.5}, yaxis: 'y'});
traces.push({x: times, y: prcOper, mode: 'lines', name: 'Oper precip', line: {color: colOper, width: 3.5}, yaxis: 'y2'});
traces.push({x: times, y: dewOper, mode: 'lines', name: 'Oper', line: {color: colOper, width: 3.5}, yaxis: 'y'});

// ---- hand-made two-column legend ----
const PL = 163, PW = 647, PT = 30, PH = 530;
const px = v => (v - PL) / PW;
const py = v => (PT + PH - v) / PH;
const shapes = [], annotations = [];
function legendItem(col, row, label, color) {
  const x0 = col === 0 ? 0 : 54;
  const yy = 39 + row * 15.1;
  shapes.push({type: 'line', xref: 'paper', yref: 'paper', x0: px(x0), x1: px(x0 + 10), y0: py(yy), y1: py(yy), line: {color: color, width: 2}});
  annotations.push({xref: 'paper', yref: 'paper', x: px(x0 + 10), y: py(yy), xanchor: 'left', yanchor: 'middle', text: label, showarrow: false, font: {family: 'DejaVu Sans', size: 10, color: '#ffffff'}});
}
for (let r = 0; r < 15; r++) {
  legendItem(0, r, memberNames[2 * r], memberColors[2 * r]);
  legendItem(1, r, memberNames[2 * r + 1], memberColors[2 * r + 1]);
}
legendItem(0, 15, 'Control', colControl);
legendItem(1, 15, 'Ens. mean', colMean);
legendItem(0, 16, 'Oper', colOper);

// left axis title placed close to the tick labels, as in the original
annotations.push({xref: 'paper', yref: 'paper', x: px(131), y: 0.5, xanchor: 'center', yanchor: 'middle', textangle: -90, text: '2m Dewpoint (°C)', showarrow: false, font: {family: 'DejaVu Sans', size: 11, color: '#ffffff'}});
annotations.push({xref: 'paper', yref: 'paper', x: px(120), y: py(599), xanchor: 'left', yanchor: 'middle', text: 'GFS Ensemble, 51N, 4.5E', showarrow: false, font: {family: 'DejaVu Sans', size: 16, color: '#ffffff'}});
annotations.push({xref: 'paper', yref: 'paper', x: px(794), y: py(599), xanchor: 'right', yanchor: 'middle', text: 'Wetterzentrale.de', showarrow: false, font: {family: 'DejaVu Sans', size: 16, color: '#ffffff'}});

const gridCol = '#4a4a4a';
const layout = {
  width: 850, height: 620,
  paper_bgcolor: '#000000', plot_bgcolor: '#000000',
  margin: {l: 163, r: 40, t: 30, b: 60, pad: 0},
  showlegend: false,
  hovermode: false,
  font: {family: 'DejaVu Sans', color: '#ffffff', size: 11},
  title: {text: '<b>Brussels\u00a0 (BE)\u00a0 2m Dewpoint &amp; Precipitation | Fri, 05Dec2025 12Z</b>', font: {family: 'DejaVu Sans', size: 16, color: '#ffffff'}, xref: 'container', yref: 'container', x: 435 / 850, xanchor: 'center', y: 1 - 12 / 620, yanchor: 'middle'},
  xaxis: {type: 'date', range: ['2025-12-05 00:00', '2025-12-21 12:00'], tickmode: 'array', tickvals: tickDates, ticktext: tickText,
          showgrid: true, gridcolor: gridCol, griddash: 'dash', gridwidth: 1, zeroline: false,
          showline: true, linecolor: '#ffffff', linewidth: 1.5, ticks: '', ticklabelstandoff: 2,
          tickfont: {size: 11, color: '#ffffff'}, title: {text: 'Date (UTC)', font: {size: 11, color: '#ffffff'}, standoff: 7}},
  yaxis: {range: [-20, 25], tick0: 0, dtick: 5, showgrid: true, gridcolor: gridCol, griddash: 'dash', gridwidth: 1,
          zeroline: true, zerolinecolor: '#ffffff', zerolinewidth: 1.5,
          showline: true, linecolor: '#ffffff', linewidth: 1.5, ticks: '', ticklabelstandoff: 6,
          tickfont: {size: 11, color: '#ffffff'}},
  yaxis2: {overlaying: 'y', side: 'right', range: [0, 40], tick0: 0, dtick: 10, showgrid: false, zeroline: false,
           showline: true, linecolor: '#ffffff', linewidth: 1.5, ticks: 'inside', ticklen: 4, tickcolor: '#ffffff',
           minor: {dtick: 1, ticks: 'inside', ticklen: 4, tickcolor: '#ffffff', showgrid: false},
           ticklabelstandoff: 6, tickfont: {size: 11, color: '#ffffff'},
           title: {text: 'Precipitation (mm)', font: {size: 11, color: '#ffffff'}, standoff: 3}},
  shapes: shapes,
  annotations: annotations
};
Plotly.newPlot('chart', traces, layout, {staticPlot: true, displayModeBar: false});
</script>
</body></html>
